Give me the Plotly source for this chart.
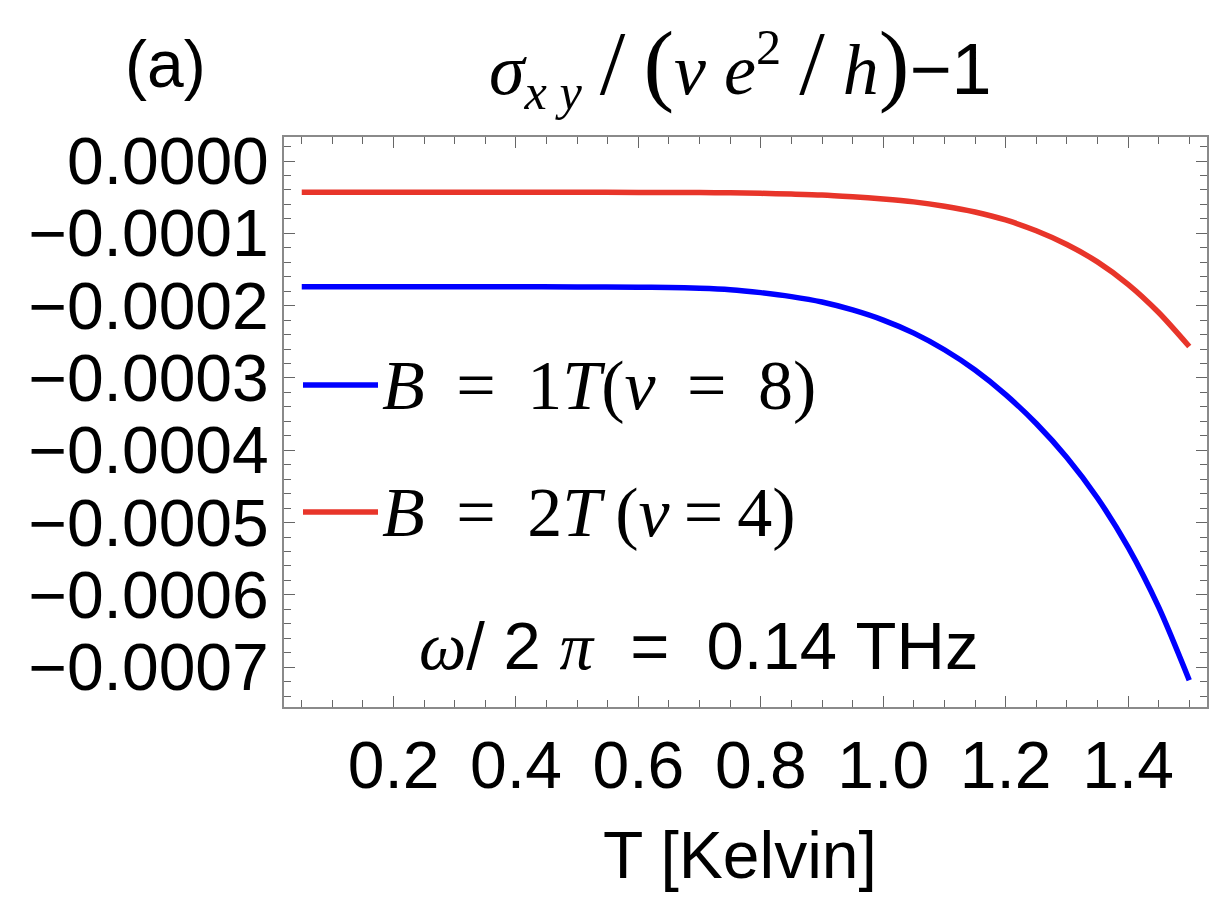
import plotly.graph_objects as go

# temperature grid (Kelvin)
T_blue = [0.05, 0.2, 0.4, 0.5, 0.6, 0.65, 0.7, 0.75, 0.8, 0.85, 0.9, 0.95, 1.0, 1.05, 1.1,
          1.15, 1.2, 1.25, 1.3, 1.35, 1.4, 1.45, 1.5]
T_red = [0.05, 0.2, 0.4, 0.5, 0.6, 0.65, 0.7, 0.75, 0.8, 0.85, 0.9, 0.95, 1.0, 1.05, 1.1,
         1.15, 1.2, 1.25, 1.3, 1.35, 1.4, 1.45, 1.5]

# sigma_xy/(nu e^2/h) - 1   (units of 1e-4)
sig_B1 = [-1.740, -1.740, -1.740, -1.741, -1.745, -1.750, -1.760, -1.780, -1.820, -1.875, -1.950,
          -2.060, -2.200, -2.380, -2.610, -2.890, -3.230, -3.630, -4.100, -4.660, -5.340, -6.170,
          -7.180]
sig_B2 = [-0.433, -0.433, -0.433, -0.433, -0.434, -0.434, -0.435, -0.440, -0.447, -0.457, -0.470,
          -0.495, -0.525, -0.565, -0.625, -0.705, -0.815, -0.965, -1.155, -1.395, -1.705, -2.095,
          -2.565]

x_ticks = [0.2, 0.4, 0.6, 0.8, 1.0, 1.2, 1.4]
y_ticks = [0.0, -1e-4, -2e-4, -3e-4, -4e-4, -5e-4, -6e-4, -7e-4]

OFF = 8  # page body margin
W, H = 1232 - 2 * OFF, 920 - 2 * OFF
L, R, TOP, BOT = 284 - OFF, 1207 - OFF, 137 - OFF, 707 - OFF


def px(xp, yp):
    # reference pixel position -> paper coords
    return (xp - OFF - L) / (R - L), (BOT - (yp - OFF)) / (BOT - TOP)


fig = go.Figure()
fig.add_trace(go.Scatter(x=T_blue, y=[v * 1e-4 for v in sig_B1], mode='lines',
                         line=dict(color='#0000ff', width=5.5, shape='spline', smoothing=0.8)))
fig.add_trace(go.Scatter(x=T_red, y=[v * 1e-4 for v in sig_B2], mode='lines',
                         line=dict(color='#e8352a', width=5.5, shape='spline', smoothing=0.8)))

sans = 'Liberation Sans, Arial, sans-serif'
serif = 'Liberation Serif, Times New Roman, serif'

annotations = []


def txt(xp, yp, text, size, family, xanchor='center'):
    x, y = px(xp, yp)
    annotations.append(dict(x=x, y=y, xref='paper', yref='paper', text=text, showarrow=False,
                            xanchor=xanchor, yanchor='middle', font=dict(size=size, family=family, color='black')))


big = '<span style="font-size:92px">%s</span>'
sp = ' \u2009'
th = '\u2009'
txt(165, 64, '(a)', 66, sans)
title = ('<i>σ</i><sub><i>x y</i></sub> ' + big % '/' + ' ' + big % '(' + '<i>ν e</i><sup>2</sup> '
         + big % '/' + ' <i>h</i>' + big % ')' + '<span style="font-family:Liberation Sans">−1</span>')
txt(740, 66, title, 72, serif)
txt(380, 385, '<i>B</i>' + sp + '=' + sp + '1<i>T</i>(<i>ν</i>' + sp + '=' + sp + '8)', 70, serif, 'left')
txt(380, 512, '<i>B</i>' + sp + '=' + sp + '2<i>T</i>' + th + '(<i>ν</i>' + th + '=' + th + '4)', 70, serif, 'left')
txt(698, 645, '<span style="font-family:Liberation Serif"><i>ω</i></span>/ 2 '
              '<span style="font-family:Liberation Serif"><i>π</i></span>  =  0.14 THz', 67, sans)
txt(740, 855, 'T [Kelvin]', 66, sans)

shapes = []
for yp, col in [(385, '#0000ff'), (512, '#e8352a')]:
    x0, y0 = px(303, yp)
    x1, _ = px(378, yp)
    shapes.append(dict(type='line', xref='paper', yref='paper', x0=x0, x1=x1, y0=y0, y1=y0,
                       line=dict(color=col, width=5.5)))

axis_common = dict(showgrid=False, zeroline=False, showline=True, linecolor='#8a8a8a', linewidth=2,
                   mirror='allticks', ticks='inside', ticklen=11, tickwidth=1.3, tickcolor='#666',
                   tickfont=dict(size=66, family=sans, color='black'))

fig.update_layout(
    width=W, height=H, autosize=False,
    margin=dict(l=L, r=W - R, t=TOP, b=H - BOT, pad=0),
    plot_bgcolor='white', paper_bgcolor='white',
    showlegend=False,
    annotations=annotations, shapes=shapes,
    xaxis=dict(range=[0.021, 1.529], tickvals=x_ticks, tickformat='.1f',
               minor=dict(dtick=0.05, tick0=0, ticks='inside', ticklen=7, tickwidth=1.1, tickcolor='#666'),
               **axis_common),
    yaxis=dict(range=[-7.55e-4, 3.32e-5], tickvals=y_ticks, tickformat='.4f',
               minor=dict(dtick=2e-5, tick0=0, ticks='inside', ticklen=7, tickwidth=1.1, tickcolor='#666'),
               **axis_common),
)

fig.write_html("out.html")
